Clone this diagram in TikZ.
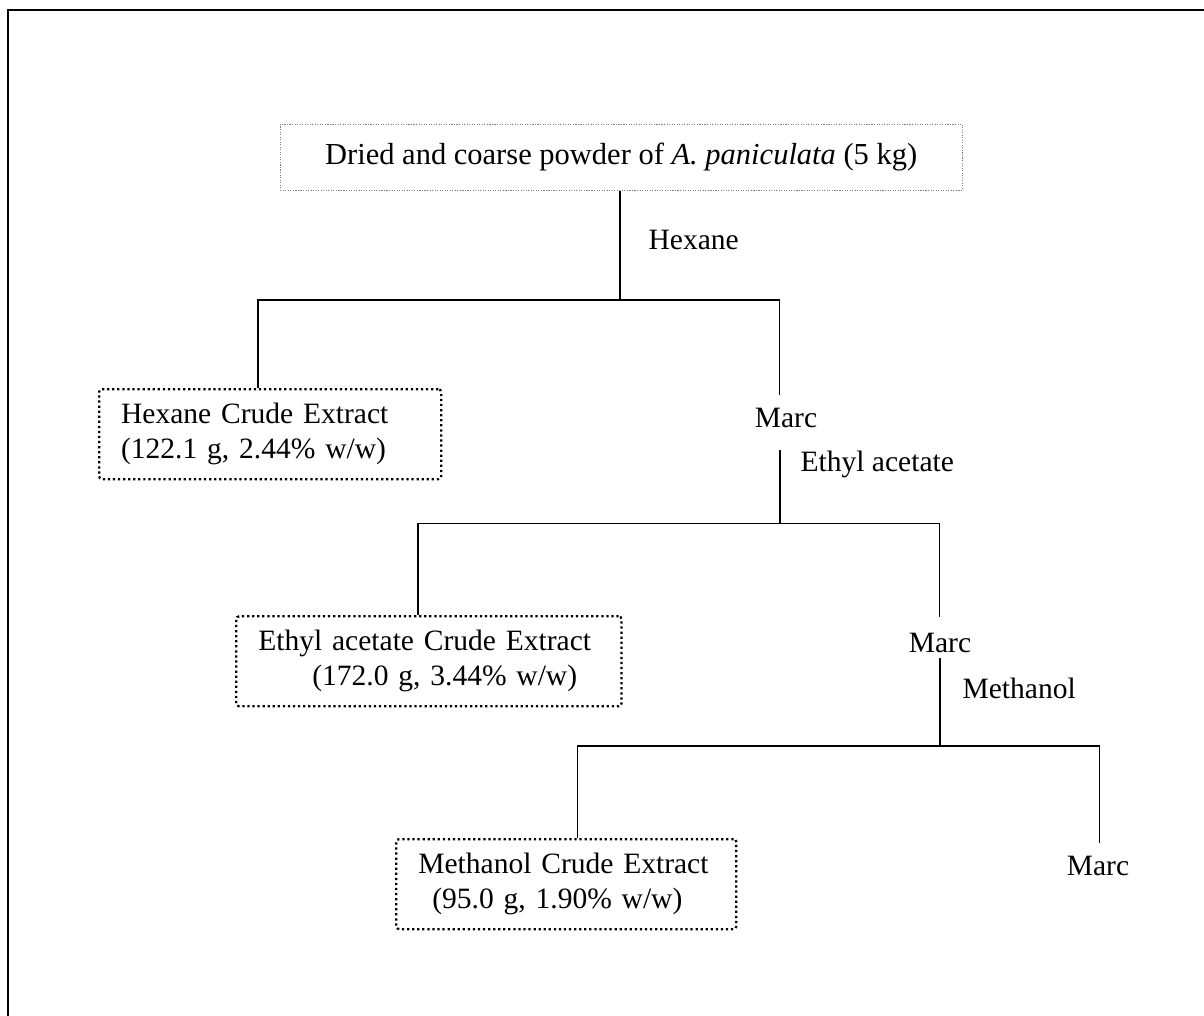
\documentclass[tikz,border=0pt]{standalone}
\usepackage{fontspec}
\setmainfont{Liberation Serif}
\usetikzlibrary{positioning}

\begin{document}
\begin{tikzpicture}[auto, line width=0.9pt, font=\fontsize{21}{25}\selectfont]
			\tikzstyle{source} = [draw=gray, densely dotted, line width=0.8pt, minimum width=17.05cm, minimum height=1.65cm, font=\fontsize{21.7}{25}\selectfont]
			\tikzstyle{extract} = [draw=black, dotted, line width=1.6pt, rounded corners=2pt, anchor=north west, align=left, inner xsep=0.55cm, minimum height=2.25cm]
			\tikzstyle{solvent} = [anchor=west, inner sep=0pt]

			% frame and size
			\useasboundingbox (0, 0) rectangle (30.1, -25.4);
			\draw[line width=2pt] (0.2, -26) -- (0.2, -0.25) -- (31, -0.25);

			\node[source]							at (15.53, -3.93)	(powder)	{Dried and coarse powder of \textit{A. paniculata} (5 kg)};
			\node[solvent]							at (16.2, -6.0)		(hexane)	{Hexane};
			\node[extract, text width=7.45cm]		at (2.45, -9.7)		(hexext)	{Hexane Crude Extract\\(122.1 g, 2.44\% w/w)};
			\node									at (19.65, -10.45)	(marc1)		{Marc};
			\node[solvent]							at (20.0, -11.62)	(ethyl)		{Ethyl acetate};
			\node[extract, text width=8.53cm]		at (5.88, -15.38)	(ethext)	{Ethyl acetate Crude Extract\\\hspace{1.35cm}(172.0 g, 3.44\% w/w)};
			\node									at (23.5, -16.08)	(marc2)		{Marc};
			\node[solvent]							at (24.05, -17.2)	(methanol)	{Methanol};
			\node[extract, text width=7.4cm]		at (9.88, -20.95)	(methext)	{Methanol Crude Extract\\\hspace{0.35cm}(95.0 g, 1.90\% w/w)};
			\node									at (27.45, -21.65)	(marc3)		{Marc};

			% junctions
			\coordinate (j1) at (15.5, -7.5);
			\coordinate (j1l) at (6.45, -7.5);
			\coordinate (j1r) at (19.48, -7.5);
			\coordinate (j2) at (19.5, -13.08);
			\coordinate (j2l) at (10.45, -13.08);
			\coordinate (j2r) at (23.48, -13.08);
			\coordinate (j3) at (23.5, -18.65);
			\coordinate (j3l) at (14.43, -18.65);
			\coordinate (j3r) at (27.48, -18.65);

			\draw (powder.south -| j1) -- (j1);
			\draw[shorten >=0.2cm] (j1l |- hexext.north) -- (j1l) -- (j1r) -- (j1r |- marc1.north);
			\draw[shorten <=0.43cm] (marc1.south -| j2) -- (j2);
			\draw[shorten >=0.28cm] (j2l |- ethext.north) -- (j2l) -- (j2r) -- (j2r |- marc2.north);
			\draw (marc2.south -| j3) -- (j3);
			\draw[shorten >=0.2cm] (j3l |- methext.north) -- (j3l) -- (j3r) -- (j3r |- marc3.north);
		\end{tikzpicture}
\end{document}
